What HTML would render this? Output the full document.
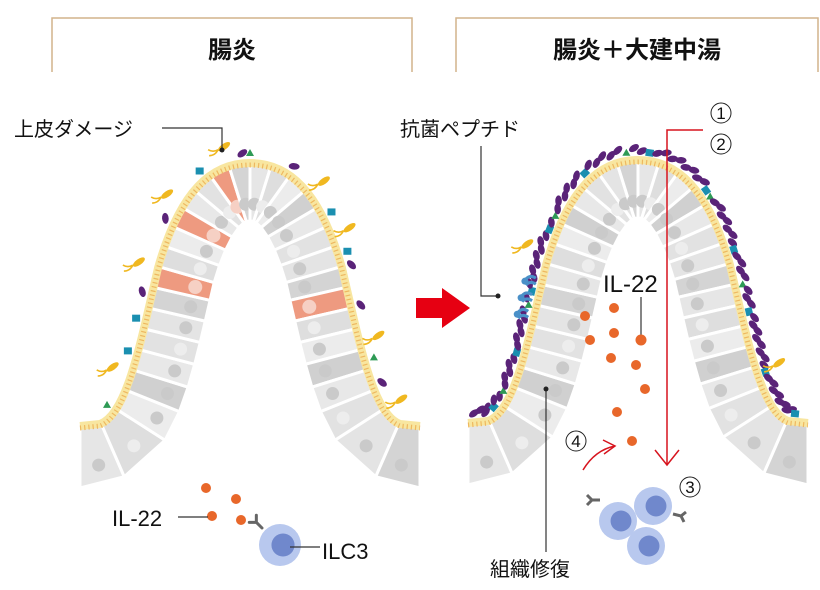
<!DOCTYPE html>
<html><head><meta charset="utf-8">
<style>
html,body{margin:0;padding:0;background:#fff;}
svg{display:block;}
text{font-family:"Liberation Sans","Noto Sans CJK JP",sans-serif;}
</style></head>
<body>
<svg id="s" width="820" height="590" viewBox="0 0 820 590" xmlns="http://www.w3.org/2000/svg">
<path d="M52,72 V18 H412 V72" fill="none" stroke="#d2b48c" stroke-width="1.5"/>
<path d="M456,72 V18 H818 V72" fill="none" stroke="#d2b48c" stroke-width="1.5"/>
<text x="232" y="58" font-size="24" font-weight="bold" text-anchor="middle" fill="#111">腸炎</text>
<text x="637" y="58" font-size="24" font-weight="bold" text-anchor="middle" fill="#111">腸炎＋大建中湯</text>

<g id="L" transform="translate(0,0)"></g>
<g id="R" transform="translate(388,-3)"></g>

<polygon points="416,298 442,298 442,288 470,308 442,328 442,318 416,318" fill="#e60012"/>

<text x="14" y="136" font-size="20" fill="#111">上皮ダメージ</text>
<polyline points="162,128 222,128 222,150" fill="none" stroke="#333" stroke-width="1.2"/>
<circle cx="222" cy="150" r="2.5" fill="#222"/>
<g fill="#e8672a">
<circle cx="206" cy="488" r="5"/><circle cx="236" cy="499" r="5"/><circle cx="212" cy="516" r="5"/><circle cx="241" cy="520" r="5"/>
</g>
<text x="112" y="526" font-size="22" fill="#111">IL-22</text>
<line x1="178" y1="517" x2="208" y2="517" stroke="#333" stroke-width="1.2"/>
<g id="ilcL"></g>
<text x="322" y="559" font-size="22" fill="#111">ILC3</text>
<line x1="290" y1="547" x2="320" y2="547" stroke="#333" stroke-width="1.2"/>

<text x="400" y="136" font-size="20" fill="#111">抗菌ペプチド</text>
<polyline points="481,146 481,296 497,296" fill="none" stroke="#333" stroke-width="1.2"/>
<circle cx="498" cy="296" r="2.5" fill="#222"/>
<text x="603" y="292" font-size="24" fill="#111">IL-22</text>
<line x1="641" y1="297" x2="641" y2="338" stroke="#333" stroke-width="1.2"/>
<g fill="#e8672a">
<circle cx="585" cy="316" r="5"/><circle cx="614" cy="308" r="5"/><circle cx="590" cy="340" r="5"/><circle cx="614" cy="333" r="5"/><circle cx="641" cy="340" r="5.5"/><circle cx="611" cy="358" r="5"/><circle cx="636" cy="365" r="5"/><circle cx="645" cy="389" r="5"/><circle cx="617" cy="412" r="5"/><circle cx="632" cy="441" r="5"/>
</g>
<polyline points="703,130 667,130 667,465" fill="none" stroke="#d7141e" stroke-width="1.5"/>
<polyline points="655,450 667,465 679,450" fill="none" stroke="#d7141e" stroke-width="1.5"/>
<g font-size="17" fill="#111" text-anchor="middle">
<circle cx="721" cy="113" r="10" fill="none" stroke="#222" stroke-width="1"/><text x="721" y="119">1</text>
<circle cx="721" cy="144" r="10" fill="none" stroke="#222" stroke-width="1"/><text x="721" y="150">2</text>
<circle cx="690" cy="487" r="10" fill="none" stroke="#222" stroke-width="1"/><text x="690" y="493">3</text>
<circle cx="576" cy="441" r="10" fill="none" stroke="#222" stroke-width="1"/><text x="576" y="447">4</text>
</g>
<path d="M583,470 Q595,450 615,446" fill="none" stroke="#d7141e" stroke-width="1.5"/>
<polyline points="603,440 615,446 604,454" fill="none" stroke="#d7141e" stroke-width="1.5"/>
<g id="ilcR"></g>
<polyline points="546,390 546,552" fill="none" stroke="#333" stroke-width="1.2"/>
<circle cx="546" cy="389" r="2.5" fill="#222"/>
<text x="490" y="576" font-size="20" fill="#111">組織修復</text>
</svg>
<script>
var NS="http://www.w3.org/2000/svg";
function el(p,t,a){var e=document.createElementNS(NS,t);for(var k in a)e.setAttribute(k,a[k]);p.appendChild(e);return e;}
var OUT="M80,426 L100,424 C127,414 140,345 158,268 C180,190 212,163 250,163 C288,163 320,190 342,268 C360,345 373,414 400,424 L420,426";
var shades=["#e6e6e6","#e2e2e2","#ececec","#d4d4d4","#e8e8e8","#dedede","#e4e4e4","#d0d0d0"];
function villus(g,right){
  var o=el(g,"path",{d:OUT,fill:"none"});
  var Lo=o.getTotalLength(),N=32,T=58;
  function P(f){var L=Math.max(0,Math.min(Lo,f*Lo));var p=o.getPointAtLength(L),q=o.getPointAtLength(Math.min(Lo,L+1)),r=o.getPointAtLength(Math.max(0,L-1));var dx=q.x-r.x,dy=q.y-r.y,l=Math.hypot(dx,dy)||1;return {x:p.x,y:p.y,nx:-dy/l,ny:dx/l,ang:Math.atan2(dy,dx)*180/Math.PI};}
  var red=right?[]:[8,11,14,24];
  for(var i=0;i<N;i++){
    var a=P(i/N),b=P((i+1)/N);
    var ai={x:a.x+a.nx*T,y:a.y+a.ny*T},bi={x:b.x+b.nx*T,y:b.y+b.ny*T};
    if(i==0)ai={x:80,y:488}; if(i==N-1)bi={x:420,y:488};
    if(ai.y>488)ai.y=488; if(bi.y>488)bi.y=488;
    var isR=red.indexOf(i)>=0;
    el(g,"polygon",{points:[a.x,a.y,b.x,b.y,bi.x,bi.y,ai.x,ai.y].join(","),fill:isR?"#ee9a80":shades[(i*5)%8],stroke:"#fff","stroke-width":3,"stroke-linejoin":"round"});
    var mx=(a.x+b.x)/2,my=(a.y+b.y)/2,ix=(ai.x+bi.x)/2,iy=(ai.y+bi.y)/2;
    el(g,"circle",{cx:mx+(ix-mx)*0.7,cy:my+(iy-my)*0.7,r:isR?7:6.5,fill:isR?"#f6d0c4":(i%4==1?"#ededed":"#cacaca")});
  }
  el(g,"path",{d:OUT,fill:"none",stroke:"#f8e6a0","stroke-width":8});
  el(g,"path",{d:OUT,fill:"none",stroke:"#eeb860","stroke-width":5,"stroke-dasharray":"1.2 3",transform:"translate(0,2)"});
  function pt(f,off){var p=P(f);return {x:p.x-p.nx*off,y:p.y-p.ny*off,ang:p.ang};}
  if(right){
    for(var k=0;k<95;k++){var f=0.01+k*0.98/95;if(k%9==4){var p=pt(f,8);el(g,"rect",{x:p.x-4,y:p.y-3.5,width:8,height:7,fill:"#1a8fb0",transform:"rotate("+p.ang+" "+p.x+" "+p.y+")"});continue;}
      if(k%13==7){var p=pt(f,8);el(g,"polygon",{points:(p.x-4)+","+(p.y+3)+" "+(p.x+4)+","+(p.y+3)+" "+p.x+","+(p.y-4),fill:"#2e9a55"});continue;}
      var p=pt(f,9+(k%2)*3);el(g,"ellipse",{cx:p.x,cy:p.y,rx:3.3,ry:5.5,fill:"#5a2378",transform:"rotate("+(p.ang+60)+" "+p.x+" "+p.y+")"});}
    [[0.2,14],[0.225,14],[0.25,14]].forEach(function(v){var p=pt(v[0],v[1]);el(g,"path",{d:"M"+(p.x+8)+","+(p.y-3)+" q-6,-4 -10,1 M"+(p.x+8)+","+(p.y+3)+" q-6,-4 -10,1",stroke:"#4a90c8","stroke-width":3,fill:"none"});el(g,"circle",{cx:p.x-3,cy:p.y,r:3.5,fill:"#4a90c8"});});
    bac(g,pt(0.3,24)); bac(g,pt(0.88,24));
  } else {
    var items=[[0.06,"g"],[0.12,"y"],[0.2,"b"],[0.28,"y"],[0.35,"p"],[0.38,"y"],[0.43,"b"],[0.47,"y"],[0.49,"p"],[0.5,"g"],[0.56,"p"],[0.6,"y"],[0.64,"b"],[0.67,"y"],[0.72,"p"],[0.78,"p"],[0.83,"y"],[0.86,"g"],[0.9,"p"],[0.94,"y"],[0.15,"b"],[0.24,"p"],[0.7,"b"]];
    items.forEach(function(v){var p=pt(v[0],10);
      if(v[1]=="p")el(g,"ellipse",{cx:p.x,cy:p.y,rx:3.3,ry:5.5,fill:"#5a2378",transform:"rotate("+(p.ang+60)+" "+p.x+" "+p.y+")"});
      if(v[1]=="b")el(g,"rect",{x:p.x-4,y:p.y-3.5,width:8,height:7,fill:"#1a8fb0"});
      if(v[1]=="g")el(g,"polygon",{points:(p.x-4)+","+(p.y+3)+" "+(p.x+4)+","+(p.y+3)+" "+p.x+","+(p.y-4),fill:"#2e9a55"});
      if(v[1]=="y")bac(g,pt(v[0],20));});
  }
}
function bac(g,p){el(g,"ellipse",{cx:p.x,cy:p.y,rx:7,ry:3,fill:"#f0b820",transform:"rotate(-35 "+p.x+" "+p.y+")"});
 el(g,"path",{d:"M"+(p.x-6)+","+(p.y+3)+" q-5,3 -10,0 M"+(p.x-6)+","+(p.y+3)+" q-3,6 -9,6",stroke:"#f0b820","stroke-width":1.6,fill:"none"});}
function ilc(g,x,y,r,rx,ry,rot){el(g,"circle",{cx:x,cy:y,r:r,fill:"#b8c8ee"});el(g,"circle",{cx:x+3,cy:y,r:r*0.55,fill:"#7088cc"});
 if(rx!=null){el(g,"path",{d:"M"+rx+","+ry+" l-8,0 m0,0 l-5,-5 m5,5 l-5,5",stroke:"#666","stroke-width":3,fill:"none","stroke-linecap":"round",transform:"rotate("+rot+" "+rx+" "+ry+")"});}}
villus(document.getElementById("L"),false);
villus(document.getElementById("R"),true);
ilc(document.getElementById("ilcL"),280,545,21,262,528,45);
var r=document.getElementById("ilcR");
ilc(r,653,506,19,null);ilc(r,618,521,19,null);ilc(r,646,546,19,null);
el(r,"path",{d:"M600,500 l-8,0 l-5,-5 m5,5 l-5,5",stroke:"#666","stroke-width":3,fill:"none"});
el(r,"path",{d:"M673,514 l8,2 l5,-4 m-5,4 l3,6",stroke:"#666","stroke-width":3,fill:"none"});
</script>
</body></html>
